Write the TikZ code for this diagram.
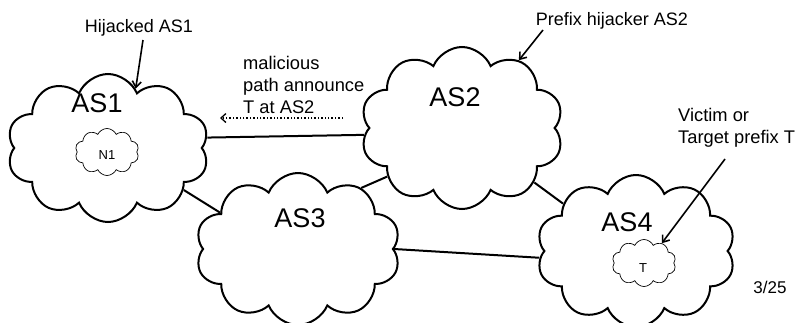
\documentclass[tikz,border=0pt]{standalone}
\usepackage{fontspec}
\setmainfont{Liberation Sans}
\usetikzlibrary{shapes.symbols,arrows.meta}
\tikzset{
  bigcloud/.style={cloud, cloud puffs=10, cloud puff arc=135, cloud ignores aspect, draw, line width=2pt, fill=white, inner sep=0pt},
  smallcloud/.style={cloud, cloud puffs=10, cloud puff arc=130, cloud ignores aspect, draw, line width=0.7pt, fill=white, inner sep=0pt, minimum width=64pt, minimum height=47pt},
  link/.style={line width=2pt},
  pointer/.style={line width=1.6pt, -{Straight Barb[length=6pt,width=9pt,line width=1.6pt]}},
  lbl/.style={font=\fontsize{18}{22}\selectfont, inner sep=0pt},
  biglbl/.style={font=\fontsize{18.3}{22}\selectfont, inner sep=0pt},
  aslbl/.style={font=\fontsize{27}{30}\selectfont, inner sep=0pt},
  innerlbl/.style={font=\fontsize{13}{16}\selectfont, inner sep=0pt}
}
\begin{document}
\begin{tikzpicture}[x=1pt,y=-1pt]
\useasboundingbox (0,0) rectangle (801,322);
% clouds
\node[bigcloud, minimum width=202pt, minimum height=148pt] (AS1) at (108,148) {};
\node[bigcloud, minimum width=203pt, minimum height=162pt] (AS2) at (462,128) {};
\node[bigcloud, minimum width=205pt, minimum height=152pt] (AS3) at (298,249) {};
\node[bigcloud, minimum width=199pt, minimum height=152pt] (AS4) at (636,251) {};
\node[smallcloud] (N1) at (107,152) {};
\node[smallcloud] (T) at (644,263) {};
% labels inside clouds
\node[aslbl] (l1) at (97,103) {AS1};
\node[aslbl] (l2) at (455,97) {AS2};
\node[aslbl] (l3) at (300,218) {AS3};
\node[aslbl] (l4) at (627,222) {AS4};
\node[innerlbl] (n1) at (107,155) {N1};
\node[innerlbl] (t1) at (643,268) {T};
% links
\draw[link] (AS1.6) -- (AS2.184);
\draw[link] (AS1.331) -- (AS3.155);
\draw[link] (AS3.44) -- (AS2.213);
\draw[link] (AS2.323) -- (AS4.147);
\draw[link] (AS3.0) -- (AS4.184);
% annotations
\node[lbl] (hij) at (139,28) {Hijacked AS1};
\node[lbl] (pre) at (612,21) {Prefix hijacker AS2};
\node[biglbl, align=left, anchor=west] (mal) at (243,85) {malicious\\path announce\\T at AS2};
\node[biglbl, align=left, anchor=west] (vic) at (678,128) {Victim or\\Target prefix T};
\node[font=\fontsize{17}{20}\selectfont, inner sep=0pt] (pg) at (770,287) {3/25};
\coordinate (hs) at (143,40);
\coordinate (ps) at (543,30);
\coordinate (vs) at (725,159);
\coordinate (ds) at (343,118);
\coordinate (de) at (220,118);
\draw[pointer] (hs) -- (AS1.65);
\draw[pointer] (ps) -- (AS2.50);
\draw[pointer] (vs) -- (T.48);
\draw[line width=1.4pt, dotted, -{Straight Barb[length=5pt,width=9pt,line width=1.3pt]}] (ds) -- (de);
\end{tikzpicture}
\end{document}
